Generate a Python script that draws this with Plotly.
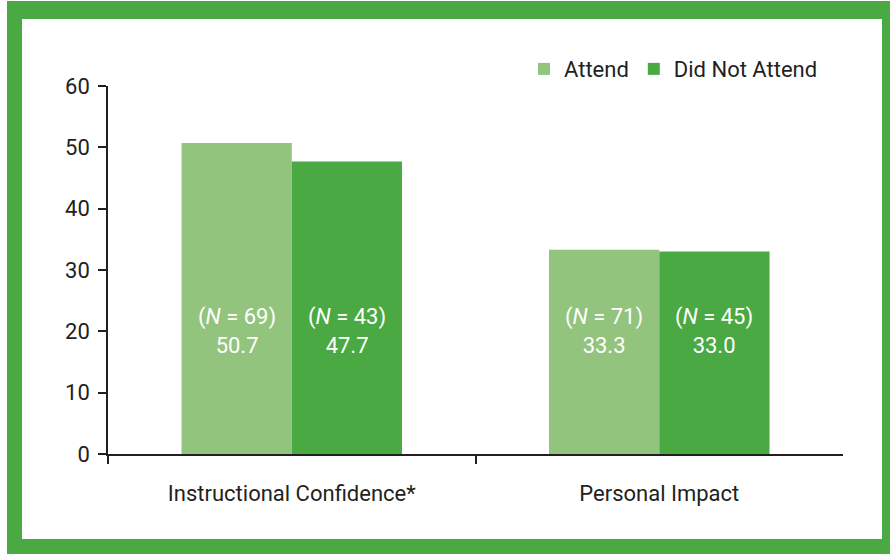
import plotly.graph_objects as go

# Mittelwerte je Gruppe
categories = ["Instructional Confidence*", "Personal Impact"]
attend = [50.7, 33.3]
did_not_attend = [47.7, 33.0]
n_attend = [69, 71]
n_did_not = [43, 45]

light_green = "#92c47e"
dark_green = "#4aa942"
text_col = "#231f20"
font_family = "Roboto, Arial, sans-serif"

fig = go.Figure()
fig.add_trace(go.Bar(x=categories, y=attend, name="Attend", marker_color=light_green,
                     marker_line_width=0))
fig.add_trace(go.Bar(x=categories, y=did_not_attend, name="Did Not Attend", marker_color=dark_green,
                     marker_line_width=0))

# Beschriftung in den Balken (feste Höhe)
for i, cat in enumerate(categories):
    fig.add_annotation(x=cat, y=20, xshift=-55, showarrow=False,
                       text=f"(<i>N</i> = {n_attend[i]})<br>{attend[i]:.1f}",
                       font=dict(color="white", size=22, family=font_family))
    fig.add_annotation(x=cat, y=20, xshift=55, showarrow=False,
                       text=f"(<i>N</i> = {n_did_not[i]})<br>{did_not_attend[i]:.1f}",
                       font=dict(color="white", size=22, family=font_family))

# Rahmen (grün) um das Bild
W, H = 735.0, 368.0
L, B = 108.0, 454.0


def px_x(p):
    return (p - L) / W


def px_y(p):
    return (B - p) / H


fig.add_shape(type="rect", xref="paper", yref="paper", layer="below",
              x0=px_x(7), x1=px_x(900), y0=px_y(560), y1=px_y(1),
              fillcolor=dark_green, line_width=0)
fig.add_shape(type="rect", xref="paper", yref="paper", layer="below",
              x0=px_x(22), x1=px_x(882), y0=px_y(539), y1=px_y(19),
              fillcolor="white", line_width=0)

fig.update_layout(
    width=890, height=554,
    margin=dict(l=108, r=47, t=86, b=100),
    barmode="group", bargap=0.40, bargroupgap=0,
    paper_bgcolor="white", plot_bgcolor="rgba(0,0,0,0)",
    font=dict(family=font_family, size=22, color=text_col),
    showlegend=True,
    legend=dict(orientation="h", x=0.566, xanchor="left", y=1.046, yanchor="middle",
                font=dict(size=22, color=text_col), bgcolor="rgba(0,0,0,0)",
                traceorder="normal"),
)
fig.update_xaxes(range=[-0.5, 1.4999], showline=True, linecolor=text_col, linewidth=1.5,
                 ticks="outside", tickson="boundaries", ticklen=8, tickwidth=1.5, tickcolor=text_col,
                 ticklabelstandoff=19, showgrid=False, zeroline=False)
fig.update_yaxes(range=[0, 60], dtick=10, showline=True, linecolor=text_col, linewidth=1.5,
                 ticks="outside", ticklen=8, tickwidth=1.5, tickcolor=text_col,
                 ticklabelstandoff=4, showgrid=False, zeroline=False)

fig.write_html("out.html", config={"displayModeBar": False},
               post_script="document.body.style.margin='0';")
